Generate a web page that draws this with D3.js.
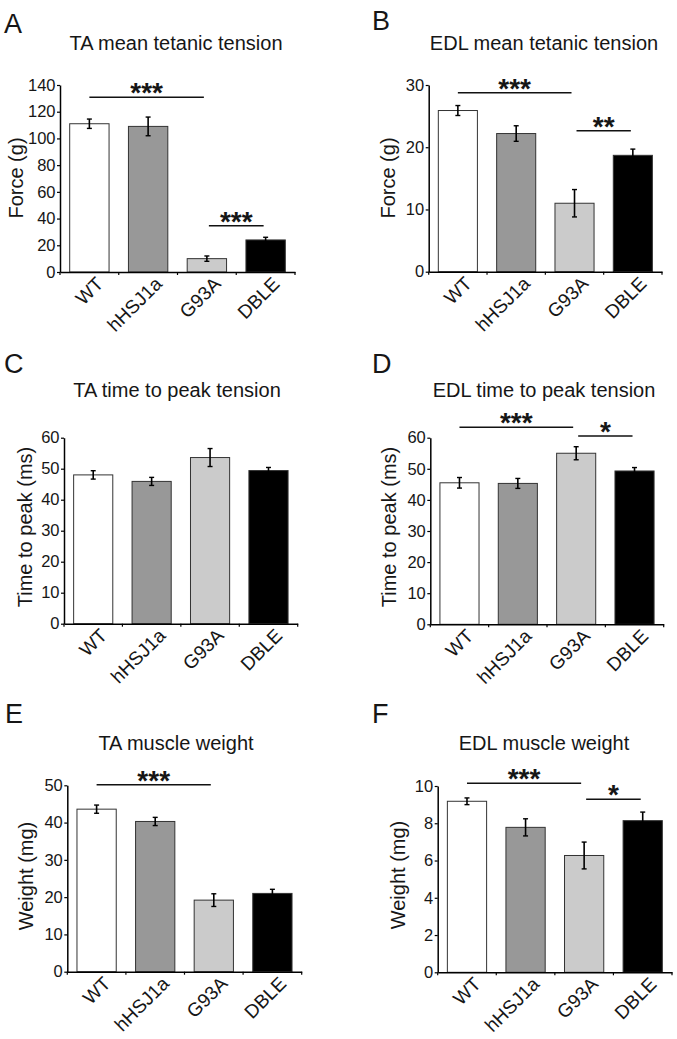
<!DOCTYPE html>
<html>
<head>
<meta charset="utf-8">
<script src="https://cdn.jsdelivr.net/npm/d3@7"></script>
<style>
  html, body { margin: 0; padding: 0; background: #fff; }
  svg { display: block; font-family: "Liberation Sans", Arial, Helvetica, sans-serif; }
</style>
</head>
<body>
<svg id="chart" width="677" height="1039"></svg>
<script>
// ---------------- DATA ----------------
const categories = ["WT", "hHSJ1a", "G93A", "DBLE"];
const barColors = ["#ffffff", "#989898", "#cbcbcb", "#000000"];

const panelLetters = ["A", "B", "C", "D", "E", "F"];
const panelTitles = [
  "TA mean tetanic tension", "EDL mean tetanic tension",
  "TA time to peak tension", "EDL time to peak tension",
  "TA muscle weight", "EDL muscle weight"
];
const yLabels = ["Force (g)", "Force (g)", "Time to peak (ms)", "Time to peak (ms)", "Weight (mg)", "Weight (mg)"];

const taTension = [111, 109, 10, 24];
const taTensionErr = [3.5, 7, 2, 2];
const edlTension = [25.9, 22.2, 11.0, 18.7];
const edlTensionErr = [0.8, 1.25, 2.2, 1.0];
const taPeak = [48, 45.9, 53.6, 49.4];
const taPeakErr = [1.35, 1.3, 2.9, 1.0];
const edlPeak = [45.5, 45.3, 55, 49.3];
const edlPeakErr = [1.7, 1.6, 2.1, 1.1];
const taWeight = [43.6, 40.3, 19.2, 21.0];
const taWeightErr = [1.1, 1.1, 1.7, 1.1];
const edlWeight = [9.18, 7.78, 6.27, 8.14];
const edlWeightErr = [0.18, 0.46, 0.72, 0.46];

const taTensionTicks = [0, 20, 40, 60, 80, 100, 120, 140];
const edlTensionTicks = [0, 10, 20, 30];
const peakTicks = [0, 10, 20, 30, 40, 50, 60];
const taWeightTicks = [0, 10, 20, 30, 40, 50];
const edlWeightTicks = [0, 2, 4, 6, 8, 10];

// significance comparisons: [fromIndex, toIndex, label]
const sigA = [[0, 2, "***"], [2, 3, "***"]];
const sigB = [[0, 2, "***"], [2, 3, "**"]];
const sigC = [];
const sigD = [[0, 2, "***"], [2, 3, "*"]];
const sigE = [[0, 2, "***"]];
const sigF = [[0, 2, "***"], [2, 3, "*"]];

// ---------------- LAYOUT ----------------
const panels = [
  { values: taTension, errs: taTensionErr, ticks: taTensionTicks, sig: sigA,
    lx: 4, ly: 33, tx: 176, ty: 50, x0: 60, x1: 295, yb: 272, yt: 85, labX: 23, labY: 178, sigY: [97.3, 225.7] },
  { values: edlTension, errs: edlTensionErr, ticks: edlTensionTicks, sig: sigB,
    lx: 372, ly: 30, tx: 544, ty: 50, x0: 428.7, x1: 662, yb: 271.7, yt: 85, labX: 395, labY: 178, sigY: [92.7, 130.7] },
  { values: taPeak, errs: taPeakErr, ticks: peakTicks, sig: sigC,
    lx: 4, ly: 373, tx: 177, ty: 397, x0: 64, x1: 297.7, yb: 623.7, yt: 437.7, labX: 32, labY: 527, sigY: [] },
  { values: edlPeak, errs: edlPeakErr, ticks: peakTicks, sig: sigD,
    lx: 372, ly: 373, tx: 544, ty: 397, x0: 430.3, x1: 663.7, yb: 624.3, yt: 437.7, labX: 396, labY: 527, sigY: [427.3, 436] },
  { values: taWeight, errs: taWeightErr, ticks: taWeightTicks, sig: sigE,
    lx: 5, ly: 723, tx: 176, ty: 750, x0: 67.3, x1: 301.7, yb: 971.7, yt: 785.3, labX: 33, labY: 876, sigY: [784.7] },
  { values: edlWeight, errs: edlWeightErr, ticks: edlWeightTicks, sig: sigF,
    lx: 372, ly: 723, tx: 544, ty: 750, x0: 437.7, x1: 672, yb: 972.3, yt: 786, labX: 405, labY: 875, sigY: [783.3, 799.3] }
];

const ink = "#161616";
const svg = d3.select("#chart");

panels.forEach((p, pi) => {
  const g = svg.append("g");

  const x = d3.scaleBand().domain(categories).range([p.x0, p.x1])
    .paddingInner(0.33).paddingOuter(0.165);
  const yMax = p.ticks[p.ticks.length - 1];
  const y = d3.scaleLinear().domain([0, yMax]).range([p.yb, p.yt]);

  // panel letter
  g.append("text").attr("x", p.lx).attr("y", p.ly)
    .attr("font-size", 27).attr("fill", ink).text(panelLetters[pi]);

  // title
  g.append("text").attr("x", p.tx).attr("y", p.ty)
    .attr("text-anchor", "middle").attr("font-size", 20).attr("fill", ink)
    .text(panelTitles[pi]);

  // y label
  g.append("text")
    .attr("transform", `translate(${p.labX},${p.labY}) rotate(-90)`)
    .attr("text-anchor", "middle").attr("font-size", 20).attr("fill", ink)
    .text(yLabels[pi]);

  // bars
  const data = categories.map((c, i) => ({ c, v: p.values[i], e: p.errs[i], color: barColors[i] }));
  g.selectAll("rect.bar").data(data).enter().append("rect")
    .attr("class", "bar")
    .attr("x", d => x(d.c))
    .attr("width", x.bandwidth())
    .attr("y", d => y(d.v))
    .attr("height", d => y(0) - y(d.v))
    .attr("fill", d => d.color)
    .attr("stroke", "#333")
    .attr("stroke-width", 1);

  // error bars
  const eb = g.selectAll("g.err").data(data).enter().append("g").attr("class", "err");
  const cx = d => x(d.c) + x.bandwidth() / 2;
  eb.append("line")
    .attr("x1", cx).attr("x2", cx)
    .attr("y1", d => y(d.v + d.e)).attr("y2", d => y(d.v - d.e))
    .attr("stroke", "#000").attr("stroke-width", 1.6);
  eb.append("line")
    .attr("x1", d => cx(d) - 2.5).attr("x2", d => cx(d) + 2.5)
    .attr("y1", d => y(d.v + d.e)).attr("y2", d => y(d.v + d.e))
    .attr("stroke", "#000").attr("stroke-width", 1.4);
  eb.append("line")
    .attr("x1", d => cx(d) - 2.5).attr("x2", d => cx(d) + 2.5)
    .attr("y1", d => y(d.v - d.e)).attr("y2", d => y(d.v - d.e))
    .attr("stroke", "#000").attr("stroke-width", 1.4);

  // y axis
  const yAxis = g.append("g").attr("transform", `translate(${p.x0},0)`)
    .call(d3.axisLeft(y).tickValues(p.ticks).tickSize(3).tickSizeOuter(0).tickPadding(1.5));
  yAxis.select(".domain").attr("stroke", "#000").attr("stroke-width", 1.5);
  yAxis.selectAll(".tick line").attr("stroke", "#000").attr("stroke-width", 1.2);
  yAxis.selectAll(".tick text").attr("font-size", 16.5).attr("fill", ink)
    .attr("font-family", "'Liberation Sans', Arial, sans-serif");

  // x axis
  const xAxis = g.append("g").attr("transform", `translate(0,${p.yb})`)
    .call(d3.axisBottom(x).tickSize(0).tickSizeOuter(0).tickPadding(0));
  xAxis.select(".domain").attr("stroke", "#000").attr("stroke-width", 1.5);
  xAxis.selectAll(".tick text")
    .attr("font-size", 19).attr("fill", ink)
    .attr("font-family", "'Liberation Sans', Arial, sans-serif")
    .attr("text-anchor", "end")
    .attr("dy", 0)
    .attr("y", 0)
    .attr("transform", "translate(15,13) rotate(-45)");
  // category boundary ticks
  const step = x.step();
  d3.range(categories.length + 1).forEach(i => {
    const bx = p.x0 + i * step;
    g.append("line").attr("x1", bx).attr("x2", bx).attr("y1", p.yb).attr("y2", p.yb + 3)
      .attr("stroke", "#000").attr("stroke-width", 1.2);
  });

  // significance bars
  p.sig.forEach((s, si) => {
    const [a, b, lab] = s;
    const xa = x(categories[a]) + x.bandwidth() / 2 + (si === 0 ? 0 : 2);
    const xb = x(categories[b]) + x.bandwidth() / 2 - (si === 0 ? 3 : 2);
    const ly = p.sigY[si];
    g.append("line").attr("x1", xa).attr("x2", xb).attr("y1", ly).attr("y2", ly)
      .attr("stroke", "#111").attr("stroke-width", 1.6);
    g.append("text").attr("x", (xa + xb) / 2).attr("y", ly + 5)
      .attr("text-anchor", "middle").attr("font-size", 28).attr("font-weight", "bold")
      .attr("fill", ink).text(lab);
  });
});
</script>
</body>
</html>
